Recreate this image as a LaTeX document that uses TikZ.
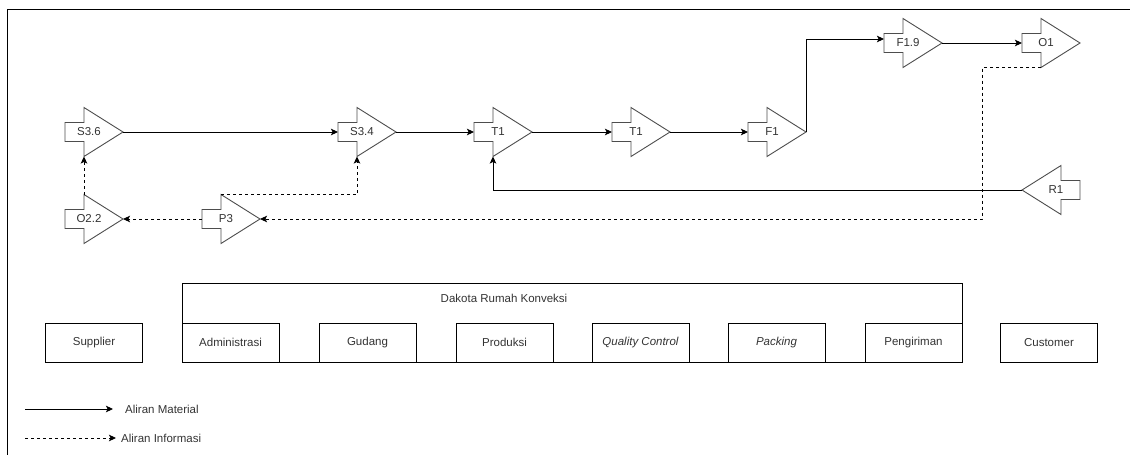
\documentclass[tikz,border=0pt]{standalone}
\usepackage{fontspec}
\setmainfont{Liberation Sans}
\usetikzlibrary{arrows.meta,calc}
\definecolor{txt}{HTML}{333333}
\definecolor{shp}{HTML}{4D4D4D}
\tikzset{
  lbl/.style={text=txt, font=\fontsize{11.5}{13}\selectfont, inner sep=0pt},
  vsm/.pic={
    \draw[shp, line width=0.9pt, line join=miter]
      (0,-9.5) -- (19,-9.5) -- (19,-24.5) -- (58,0) -- (19,24.5) -- (19,9.5) -- (0,9.5) -- cycle;
    \coordinate (-tail) at (0,0);
    \coordinate (-apex) at (58,0);
    \coordinate (-top) at (19,-24.5);
    \coordinate (-bot) at (19,24.5);
    \node[lbl] (-lbl) at (24,0) {#1};
  },
  mat/.style={draw=black, line width=0.9pt, -{Stealth[length=7pt,width=6.5pt,inset=1.5pt]}},
  info/.style={mat, dash pattern=on 3pt off 3pt},
  unit/.style={draw=black, line width=0.9pt, minimum width=97pt, minimum height=39pt,
    inner sep=0pt, text=txt, font=\fontsize{11.5}{13}\selectfont},
}
\begin{document}
\begin{tikzpicture}[x=1pt,y=-1pt]
\useasboundingbox (0,0) rectangle (1130,455);
% frame
\draw[black, line width=1pt] (7,455) -- (7,9) -- (1130,9);

% VSM icons
\pic (s36) at (65,132) {vsm=S3.6};
\pic (s34) at (338,132) {vsm=S3.4};
\pic (t1a) at (474,132) {vsm=T1};
\pic (t1b) at (612,132) {vsm=T1};
\pic (f1) at (748,132) {vsm=F1};
\pic (f19) at (884,43) {vsm=F1.9};
\pic (o1) at (1022,43) {vsm=O1};
\pic (o22) at (65,219) {vsm=O2.2};
\pic (p3) at (202,219) {vsm=P3};
\pic[xscale=-1] (r1) at (1080,190) {vsm=R1};

% material flow
\draw[mat] (s36-apex) -- (s34-tail);
\draw[mat] (s34-apex) -- (t1a-tail);
\draw[mat] (t1a-apex) -- (t1b-tail);
\draw[mat] (t1b-apex) -- (f1-tail);
\coordinate (f19in) at ($(f19-tail)+(0,-4)$);
\draw[mat] (f1-apex) |- (f19in);
\draw[mat] (f19-apex) -- (o1-tail);
\draw[mat] (r1-apex) -| (t1a-bot);

% information flow
\coordinate (infoturn) at (982,219);
\draw[info] (o1-bot) -| (infoturn) -- (p3-apex);
\draw[info] (p3-tail) -- (o22-apex);
\draw[info] (o22-top) -- (s36-bot);
\draw[info] (p3-top) -| (s34-bot);

% organisation
\node[draw=black, line width=0.9pt, minimum width=780pt, minimum height=79pt, inner sep=0pt] (dakota) at (572,322.5) {};
\node[lbl] (dakotalbl) at (504,298) {Dakota Rumah Konveksi};
\node[unit] (supplier) at (94,342.5) {Supplier};
\node[unit] (admin) at (230.5,342.5) {Administrasi};
\node[unit] (gudang) at (367.5,342.5) {Gudang};
\node[unit] (produksi) at (504.5,342.5) {Produksi};
\node[unit] (qc) at (640.5,342.5) {\itshape Quality Control};
\node[unit] (packing) at (776.5,342.5) {\itshape Packing};
\node[unit] (pengiriman) at (913.5,342.5) {Pengiriman};
\node[unit] (customer) at (1049,342.5) {Customer};

% legend
\coordinate (lm1) at (25,409);
\coordinate (lm2) at (113,409);
\draw[mat] (lm1) -- (lm2);
\node[lbl, anchor=west] (lmt) at (125,409) {Aliran Material};
\coordinate (li1) at (25,438);
\coordinate (li2) at (116,438);
\draw[info] (li1) -- (li2);
\node[lbl, anchor=west] (lit) at (121,438) {Aliran Informasi};
\end{tikzpicture}
\end{document}
